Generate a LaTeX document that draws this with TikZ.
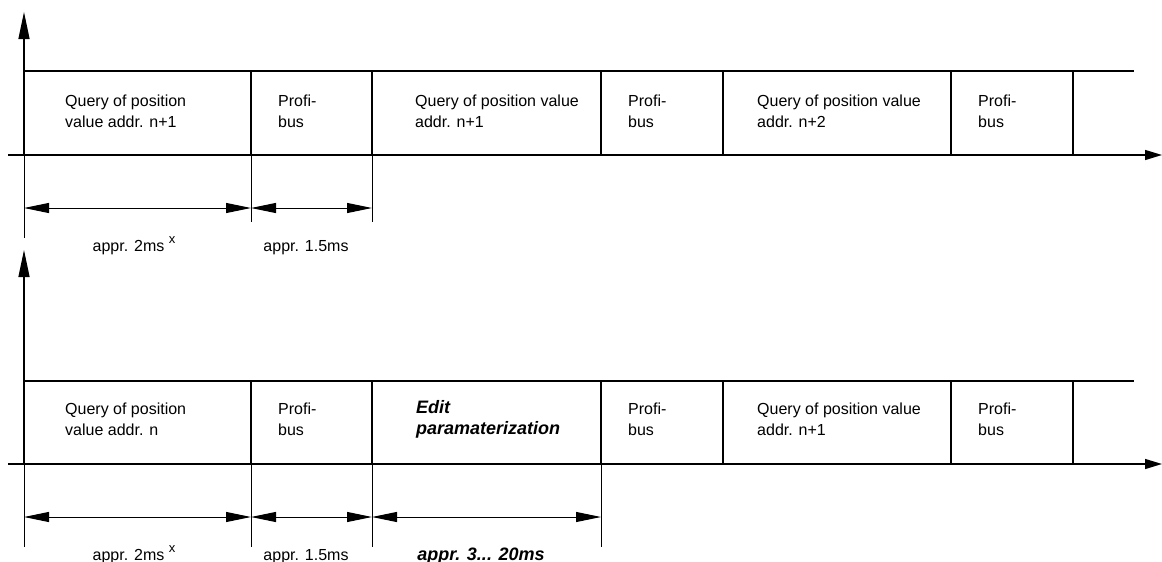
\documentclass[tikz,border=0pt]{standalone}
\usepackage{fontspec}
\setmainfont{Liberation Sans}
\usetikzlibrary{arrows.meta}
\begin{document}
\begin{tikzpicture}[x=1pt,y=-1pt,
  seg/.style={draw, line width=1.3pt, rectangle, inner sep=0pt, outer sep=0pt,
              anchor=north west, minimum height=84pt},
  txt/.style={anchor=west, align=left, inner sep=0pt, font=\fontsize{16}{21}\selectfont},
  bitxt/.style={txt, font=\fontsize{18}{21}\selectfont\bfseries\itshape},
  vaxis/.style={line width=1.3pt, -{Triangle[length=27pt,width=11pt]}},
  taxis/.style={line width=1.3pt, -{Triangle[length=17pt,width=10pt]}},
  ext/.style={line width=0.8pt},
  dim/.style={line width=1pt,
              {Triangle[length=25pt,width=10pt]}-{Triangle[length=25pt,width=10pt]}},
  dimlbl/.style={anchor=base, inner sep=0pt, font=\fontsize{16}{20}\selectfont},
  bidimlbl/.style={dimlbl, font=\fontsize{18}{20}\selectfont\bfseries\itshape},
]
\useasboundingbox (0,0) rectangle (1162,562);

% ---------------- upper time line ----------------
\node[seg, minimum width=227pt] (a1) at (24,71) {};
\node[seg, minimum width=121pt] (a2) at (251,71) {};
\node[seg, minimum width=229pt] (a3) at (372,71) {};
\node[seg, minimum width=122pt] (a4) at (601,71) {};
\node[seg, minimum width=228pt] (a5) at (723,71) {};
\node[seg, minimum width=122pt] (a6) at (951,71) {};
\coordinate (aend) at (1134,71);
\draw[line width=1.3pt] (a6.north east) -- (aend);

\node[txt] (at1) at (65,111.5)  {Query of position\\value addr. n+1};
\node[txt] (at2) at (278,111.5) {Profi-\\bus};
\node[txt] (at3) at (415,111.5) {Query of position value\\addr. n+1};
\node[txt] (at4) at (628,111.5) {Profi-\\bus};
\node[txt] (at5) at (757,111.5) {Query of position value\\addr. n+2};
\node[txt] (at6) at (978,111.5) {Profi-\\bus};

% axes
\coordinate (aytip) at (24,12);
\coordinate (at0) at (8,155);
\coordinate (attip) at (1162,155);
\draw[vaxis] (a1.south west) -- (aytip);
\draw[taxis] (at0) -- (attip);

% extension and dimension lines
\coordinate (ax0) at (24,238);
\coordinate (ax1) at (251,222);
\coordinate (ax2) at (372,222);
\draw[ext] (a1.south west) -- (ax0);
\draw[ext] (a2.south west) -- (ax1);
\draw[ext] (a3.south west) -- (ax2);
\coordinate (ad0) at (24,208);
\coordinate (ad1) at (251,208);
\coordinate (ad2) at (372,208);
\draw[dim] (ad0) -- (ad1);
\draw[dim] (ad1) -- (ad2);
\node[dimlbl] (al1) at (134,251) {appr. 2ms \raisebox{8pt}{\fontsize{13}{13}\selectfont x}};
\node[dimlbl] (al2) at (306,251) {appr. 1.5ms};

% ---------------- lower time line ----------------
\node[seg, minimum width=227pt, minimum height=83pt] (b1) at (24,381) {};
\node[seg, minimum width=121pt, minimum height=83pt] (b2) at (251,381) {};
\node[seg, minimum width=229pt, minimum height=83pt] (b3) at (372,381) {};
\node[seg, minimum width=122pt, minimum height=83pt] (b4) at (601,381) {};
\node[seg, minimum width=228pt, minimum height=83pt] (b5) at (723,381) {};
\node[seg, minimum width=122pt, minimum height=83pt] (b6) at (951,381) {};
\coordinate (bend) at (1134,381);
\draw[line width=1.3pt] (b6.north east) -- (bend);

\node[txt] (bt1) at (65,419.5)  {Query of position\\value addr. n};
\node[txt] (bt2) at (278,419.5) {Profi-\\bus};
\node[bitxt] (bt3) at (416,419.5) {Edit\\paramaterization};
\node[txt] (bt4) at (628,419.5) {Profi-\\bus};
\node[txt] (bt5) at (757,419.5) {Query of position value\\addr. n+1};
\node[txt] (bt6) at (978,419.5) {Profi-\\bus};

% axes
\coordinate (bytip) at (24,250);
\coordinate (bt0) at (8,464);
\coordinate (bttip) at (1162,464);
\draw[vaxis] (b1.south west) -- (bytip);
\draw[taxis] (bt0) -- (bttip);

% extension and dimension lines
\coordinate (bx0) at (24,547);
\coordinate (bx1) at (251,547);
\coordinate (bx2) at (372,547);
\coordinate (bx3) at (601,547);
\draw[ext] (b1.south west) -- (bx0);
\draw[ext] (b2.south west) -- (bx1);
\draw[ext] (b3.south west) -- (bx2);
\draw[ext] (b4.south west) -- (bx3);
\coordinate (bd0) at (24,517);
\coordinate (bd1) at (251,517);
\coordinate (bd2) at (372,517);
\coordinate (bd3) at (601,517);
\draw[dim] (bd0) -- (bd1);
\draw[dim] (bd1) -- (bd2);
\draw[dim] (bd2) -- (bd3);
\node[dimlbl] (bl1) at (134,560) {appr. 2ms \raisebox{8pt}{\fontsize{13}{13}\selectfont x}};
\node[dimlbl] (bl2) at (306,560) {appr. 1.5ms};
\node[bidimlbl] (bl3) at (481,560) {appr. 3... 20ms};
\end{tikzpicture}
\end{document}
